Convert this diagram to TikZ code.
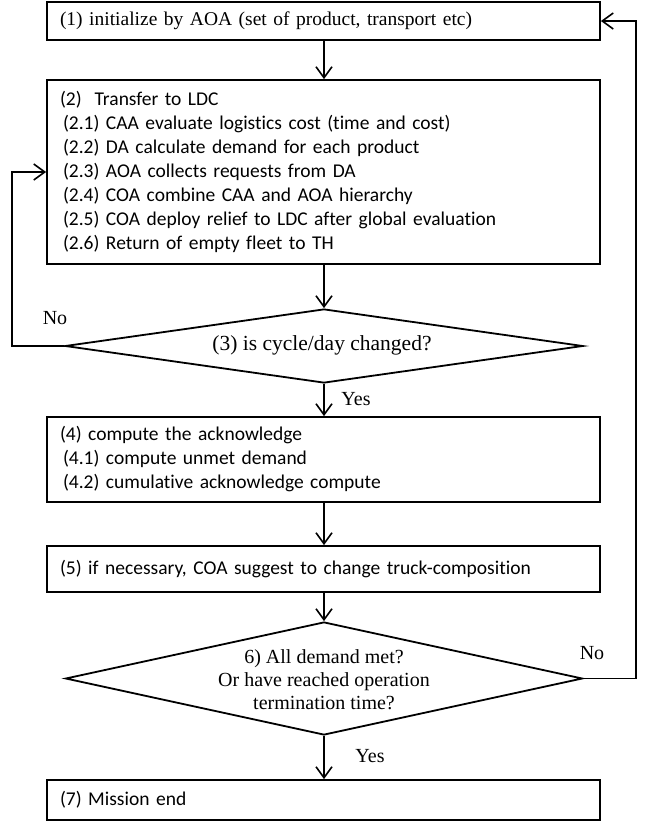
\documentclass[tikz,border=0pt]{standalone}
\usepackage{fontspec}
\setmainfont{Liberation Serif}
\newfontfamily\calfont[Ligatures=NoCommon]{Carlito}
\usetikzlibrary{arrows.meta,shapes.geometric}
\begin{document}
\begin{tikzpicture}[x=1pt,y=1pt,
  box/.style={draw, line width=1.8pt, rectangle, minimum width=553pt, inner xsep=13pt, inner ysep=0pt,
    text width=527pt, align=left, font=\calfont\fontsize{19.5}{24}\selectfont},
  sbox/.style={box, font=\fontsize{19.5}{24}\selectfont},
  dia/.style={draw, line width=1.8pt, diamond, inner sep=0pt},
  lab/.style={font=\fontsize{20}{21}\selectfont, inner sep=0pt},
  arr/.style={line width=1.6pt, -{Straight Barb[length=11pt,width=16pt,line width=1.6pt]}},
  ln/.style={line width=1.6pt}]
\useasboundingbox (0,0) rectangle (649,-825);

\node[sbox, minimum height=38pt] (b1) at (323.5,-21) {(1) initialize by AOA (set of product, transport etc)};
\node[box, minimum height=184pt] (b2) at (323.5,-172) {(2)\ \ Transfer to LDC\\
\hspace{3pt}(2.1) CAA evaluate logistics cost (time and cost)\\
\hspace{3pt}(2.2) DA calculate demand for each product\\
\hspace{3pt}(2.3) AOA collects requests from DA\\
\hspace{3pt}(2.4) COA combine CAA and AOA hierarchy\\
\hspace{3pt}(2.5) COA deploy relief to LDC after global evaluation\\
\hspace{3pt}(2.6) Return of empty fleet to TH};
\node[dia, minimum width=518pt, minimum height=74pt] (d3) at (324,-346) {};
\node[lab, font=\fontsize{21.5}{23}\selectfont] (t3) at (322,-345) {(3) is cycle/day changed?};
\node[box, minimum height=85pt] (b4) at (323.5,-459.5) {(4) compute the acknowledge\\
\hspace{3pt}(4.1) compute unmet demand\\
\hspace{3pt}(4.2) cumulative acknowledge compute};
\node[box, minimum height=46pt] (b5) at (323.5,-569) {(5) if necessary, COA suggest to change truck-composition};
\node[dia, minimum width=517pt, minimum height=113pt] (d6) at (324,-678.5) {};
\node[lab, align=center, font=\fontsize{20}{23}\selectfont] (t6) at (324,-680) {6) All demand met?\\Or have reached operation\\termination time?};
\node[box, minimum height=40pt] (b7) at (323.5,-800) {(7) Mission end};

\coordinate (cl) at (12,-346);
\coordinate (cr) at (636,-678.5);

\draw[arr] (b1.south -| d3.north) -- (b2.north -| d3.north);
\draw[arr] (b2.south -| d3.north) -- (d3.north);
\draw[arr] (d3.south) -- (b4.north -| d3.south);
\draw[arr] (b4.south -| d3.south) -- (b5.north -| d3.south);
\draw[arr] (b5.south -| d6.north) -- (d6.north);
\draw[arr] (d6.south) -- (b7.north -| d6.south);
\draw[arr] (d3.west) -- (cl) |- (b2.west);
\draw[arr] (d6.east) -- (cr) |- (b1.east);

\node[lab] (no1) at (55,-318) {No};
\node[lab] (no2) at (592,-653) {No};
\node[lab] (yes1) at (356,-399) {Yes};
\node[lab] (yes2) at (370,-756) {Yes};
\end{tikzpicture}
\end{document}
